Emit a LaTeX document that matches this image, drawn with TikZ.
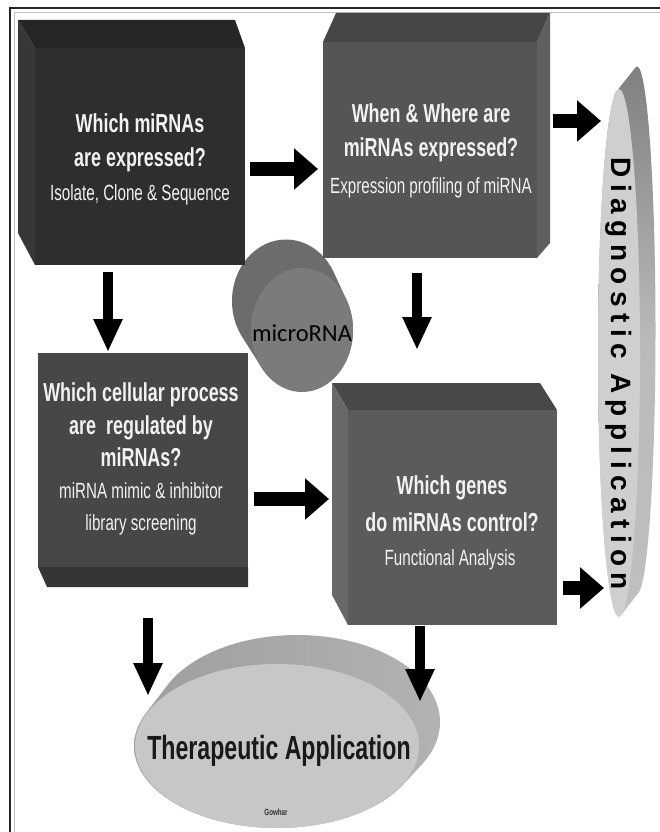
\documentclass[tikz,border=0pt]{standalone}
\usepackage{fontspec}
\setmainfont{Liberation Sans}
\newfontfamily\nar[FakeStretch=0.69]{Liberation Sans}
\newfontfamily\diagfont[LetterSpace=23]{Liberation Sans}
\newfontfamily\carl{Carlito}
\usetikzlibrary{arrows.meta,shapes.geometric}
\definecolor{bAfront}{HTML}{2E2E2E}
\definecolor{bAtop}{HTML}{262626}
\definecolor{bAleft}{HTML}{373737}
\definecolor{bBfront}{HTML}{555555}
\definecolor{bBtop}{HTML}{464646}
\definecolor{bBside}{HTML}{5F5F5F}
\definecolor{bCfront}{HTML}{474747}
\definecolor{bCbot}{HTML}{353535}
\definecolor{bDfront}{HTML}{5B5B5B}
\definecolor{bDtop}{HTML}{484848}
\definecolor{bDleft}{HTML}{686868}
\definecolor{cylside}{HTML}{6C6C6C}
\definecolor{cylfront}{HTML}{7B7B7B}
\definecolor{txtwhite}{HTML}{F2F2F2}
\tikzset{
  face/.style={inner sep=0pt, outer sep=0pt, anchor=north west},
  titletext/.style={anchor=base, text=txtwhite, font=\nar\bfseries\fontsize{26}{26}\selectfont, inner sep=0pt},
  subtext/.style={anchor=base, text=txtwhite, font=\nar\fontsize{22}{22}\selectfont, inner sep=0pt},
  harrow/.style={line width=14pt, -{Triangle[length=24pt,width=40pt]}, black},
  varrow/.style={line width=10pt, -{Triangle[length=33pt,width=27pt]}, black},
}
\begin{document}
\begin{tikzpicture}[x=1pt,y=-1pt]
\useasboundingbox (0,0) rectangle (660,832);
\fill[white] (0,0) rectangle (660,832);
% frame
\draw[line width=1.5pt, black!85] (10,832) -- (10,8) -- (660,8);
\draw[line width=0.8pt, black!25] (14,832) -- (14,12) -- (660,12);

% microRNA cylinder
\path[fill=cylside] \foreach \t in {0,0.05,...,1.001} { ({286+16*\t},{301+29*\t}) ellipse ({54-3*\t} and 61.5) };
\node[ellipse, fill=cylfront, minimum width=102pt, minimum height=124pt, inner sep=0pt] (mirna) at (302,330) {};
\node[font=\carl\fontsize{24.5}{24.5}\selectfont, text=black, anchor=base] (mirnat) at (302,341) {microRNA};

% Box 1
\fill[bAtop] (18,20) -- (235,20) -- (245,48) -- (35,48) -- cycle;
\fill[bAleft] (18,20) -- (35,48) -- (35,265) -- (18,233) -- cycle;
\node[face, fill=bAfront, minimum width=210pt, minimum height=217pt] (b1) at (35,48) {};
\node[titletext] (b1a) at (140,132) {Which miRNAs};
\node[titletext] (b1b) at (140,166) {are expressed?};
\node[subtext] (b1c) at (140,200) {Isolate, Clone \& Sequence};

% Box 2
\fill[bBtop] (323,42) -- (336,13) -- (550,13) -- (537,42) -- cycle;
\fill[bBside] (537,42) -- (550,13) -- (550,243) -- (537,258) -- cycle;
\node[face, fill=bBfront, minimum width=214pt, minimum height=216pt] (b2) at (323,42) {};
\node[titletext] (b2a) at (431,122) {When \& Where are};
\node[titletext] (b2b) at (431,157) {miRNAs expressed?};
\node[subtext] (b2c) at (431,193) {Expression profiling of miRNA};

% Box 3
\fill[bCbot] (38,567) -- (248,567) -- (248,587) -- (47,587) -- cycle;
\node[face, fill=bCfront, minimum width=210pt, minimum height=214pt] (b3) at (38,353) {};
\node[titletext] (b3a) at (141,401) {Which cellular process};
\node[titletext] (b3b) at (141,434) {are~ regulated by};
\node[titletext] (b3c) at (141,466) {miRNAs?};
\node[subtext] (b3d) at (141,498) {miRNA mimic \& inhibitor};
\node[subtext] (b3e) at (141,530) {library screening};

% Box 4
\fill[bDtop] (332,383) -- (540,383) -- (557,410) -- (348,410) -- cycle;
\fill[bDleft] (332,383) -- (348,410) -- (348,625) -- (332,595) -- cycle;
\node[face, fill=bDfront, minimum width=209pt, minimum height=215pt] (b4) at (348,410) {};
\node[titletext] (b4a) at (452,494) {Which genes};
\node[titletext] (b4b) at (452,531) {do miRNAs control?};
\node[subtext] (b4c) at (450,565) {Functional Analysis};

% Diagnostic application (tall disc)
\shade[top color=black!50, bottom color=black!25, middle color=black!27]
  \foreach \t in {0,0.04,...,1.001} { ({637-18*\t},{330+23*\t}) ellipse ({18.5+2.5*\t} and 263.5) };
\node[ellipse, fill=black!19, minimum width=42pt, minimum height=528pt, inner sep=0pt] (diag) at (619,353) {};
\node[rotate=-90, font=\diagfont\bfseries\fontsize{28}{28}\selectfont, text=black] (diagt) at (619,374) {Diagnostic Application};

% Therapeutic application (flat disc)
\shade[left color=black!38, right color=black!30]
  \foreach \t in {0,0.04,...,1.001} { ({297-20*\t},{722+24*\t}) ellipse (143 and {87-5*\t}) };
\node[ellipse, fill=black!22, minimum width=284pt, minimum height=164pt, inner sep=0pt] (ther) at (277,746) {};
\node[anchor=base, font=\nar\bfseries\fontsize{33.5}{33.5}\selectfont, text=black!90] (thert) at (279,759) {Therapeutic Application};
\node[anchor=base, font=\nar\bfseries\fontsize{9}{9}\selectfont, text=black!80] (gow) at (276,815) {Gowhar};

% arrows
\coordinate (a1s) at (250,169); \coordinate (a1e) at (318,169);
\coordinate (a2s) at (553,121); \coordinate (a2e) at (601,121);
\coordinate (a3s) at (108,272); \coordinate (a3e) at (108,352);
\coordinate (a4s) at (417,273); \coordinate (a4e) at (417,350);
\coordinate (a5s) at (254,499); \coordinate (a5e) at (329,499);
\coordinate (a6s) at (563,588); \coordinate (a6e) at (604,588);
\coordinate (a7s) at (148,618); \coordinate (a7e) at (148,696);
\coordinate (a8s) at (420,626); \coordinate (a8e) at (420,702);
\draw[harrow] (a1s) -- (a1e);
\draw[harrow] (a2s) -- (a2e);
\draw[varrow] (a3s) -- (a3e);
\draw[varrow] (a4s) -- (a4e);
\draw[harrow] (a5s) -- (a5e);
\draw[harrow] (a6s) -- (a6e);
\draw[varrow] (a7s) -- (a7e);
\draw[varrow] (a8s) -- (a8e);
\end{tikzpicture}
\end{document}
